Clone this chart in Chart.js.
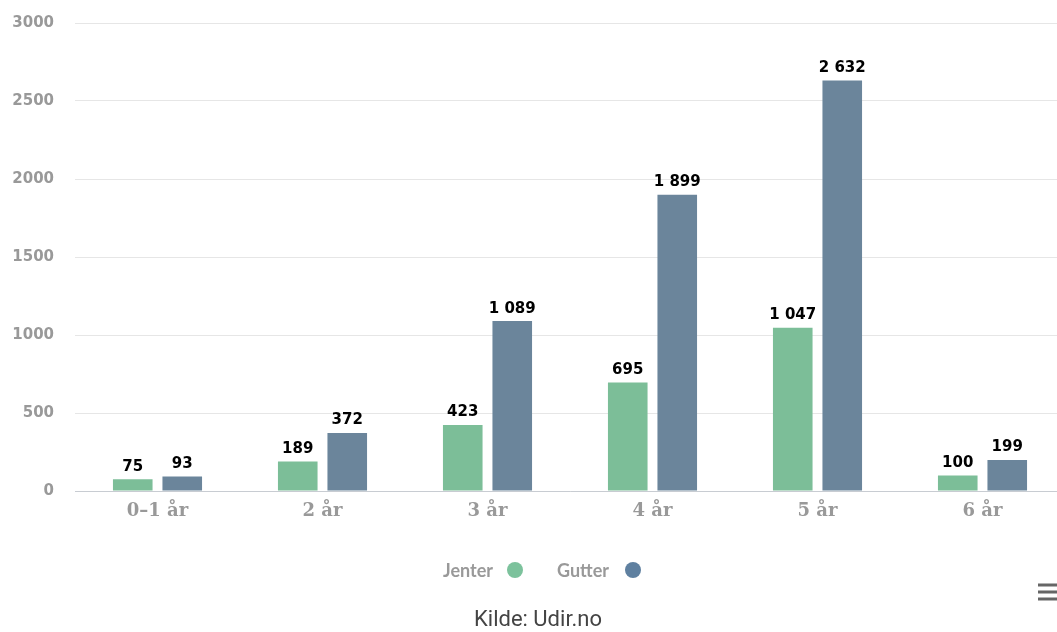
<!DOCTYPE html>
<html>
<head>
<meta charset="utf-8">
<script src="https://cdn.jsdelivr.net/npm/chart.js@4.4.1/dist/chart.umd.min.js"></script>
<style>
  html, body { margin: 0; padding: 0; overflow: hidden; background: #fff; width: 1057px; height: 632px; }
  #wrap { position: absolute; left: 0; top: 0; width: 1080px; height: 632px; }
</style>
</head>
<body>
<div id="wrap"><canvas id="c" width="1080" height="632"></canvas></div>
<script>
const categories = ['0–1 år', '2 år', '3 år', '4 år', '5 år', '6 år'];
const jenter = [75, 189, 423, 695, 1047, 100];
const gutter = [93, 372, 1089, 1899, 2632, 199];
const seriesNames = ['Jenter', 'Gutter'];
const seriesColors = ['#7cbe98', '#6b859b'];
const legendDotColors = ['#7cc29c', '#5f80a0'];
const yTicks = [0, 500, 1000, 1500, 2000, 2500, 3000];
const creditText = 'Kilde: Udir.no';

function fmt(v) {
  return String(v).replace(/\B(?=(\d{3})+(?!\d))/g, ' ');
}

const dataLabels = {
  id: 'dataLabels',
  afterDatasetsDraw(chart) {
    const ctx = chart.ctx;
    ctx.save();
    ctx.font = 'bold 15px "DejaVu Sans"';
    ctx.fillStyle = '#000';
    ctx.textAlign = 'center';
    ctx.textBaseline = 'bottom';
    chart.data.datasets.forEach((ds, i) => {
      chart.getDatasetMeta(i).data.forEach((bar, j) => {
        ctx.fillText(fmt(ds.data[j]), bar.x, bar.y - 5);
      });
    });
    ctx.restore();
  }
};

const extras = {
  id: 'extras',
  afterDraw(chart) {
    const ctx = chart.ctx;
    ctx.save();
    // legend
    ctx.font = 'bold 18px "Lato"';
    ctx.textBaseline = 'middle';
    ctx.textAlign = 'left';
    const ly = 571;
    const items = [{x: 443, dot: 515}, {x: 557, dot: 633}];
    items.forEach((it, i) => {
      ctx.fillStyle = '#999';
      ctx.fillText(seriesNames[i], it.x, ly);
      ctx.beginPath();
      ctx.arc(it.dot, ly - 1, 8, 0, Math.PI * 2);
      ctx.fillStyle = legendDotColors[i];
      ctx.fill();
    });
    // credit
    ctx.font = '22px Roboto';
    ctx.fillStyle = '#444';
    ctx.textAlign = 'center';
    ctx.fillText(creditText, 538, 620);
    // menu icon
    ctx.fillStyle = '#666';
    [585, 592, 599].forEach(y => ctx.fillRect(1038, y - 1.5, 19, 3));
    ctx.restore();
  }
};

new Chart(document.getElementById('c'), {
  type: 'bar',
  data: {
    labels: categories,
    datasets: [
      { label: seriesNames[0], data: jenter, backgroundColor: seriesColors[0], borderWidth: 0 },
      { label: seriesNames[1], data: gutter, backgroundColor: seriesColors[1], borderWidth: 0 }
    ]
  },
  options: {
    responsive: false,
    animation: false,
    devicePixelRatio: 1,
    layout: { padding: { top: 23, right: 15, left: 0, bottom: 0 } },
    datasets: { bar: { categoryPercentage: 0.6, barPercentage: 0.8 } },
    plugins: { legend: { display: false }, tooltip: { enabled: false } },
    scales: {
      x: {
        grid: { display: false, drawTicks: false },
        border: { display: true, color: '#c8ccd2', width: 1 },
        ticks: { color: '#999', font: { family: '"DejaVu Serif"', size: 18, weight: 'bold' }, padding: 10 },
        afterFit(s) { s.height = 141; }
      },
      y: {
        min: 0, max: 3000,
        afterBuildTicks(s) { s.ticks = yTicks.map(v => ({ value: v })); },
        grid: { color: '#e6e6e6', drawTicks: false },
        border: { display: false },
        ticks: {
          color: '#999',
          font: { family: '"DejaVu Sans"', size: 15, weight: 'bold' },
          padding: 21,
          callback: v => String(v)
        },
        afterFit(s) { s.width = 75; s.paddingTop = 0; s.paddingBottom = 0; }
      }
    }
  },
  plugins: [dataLabels, extras]
});
</script>
</body>
</html>
